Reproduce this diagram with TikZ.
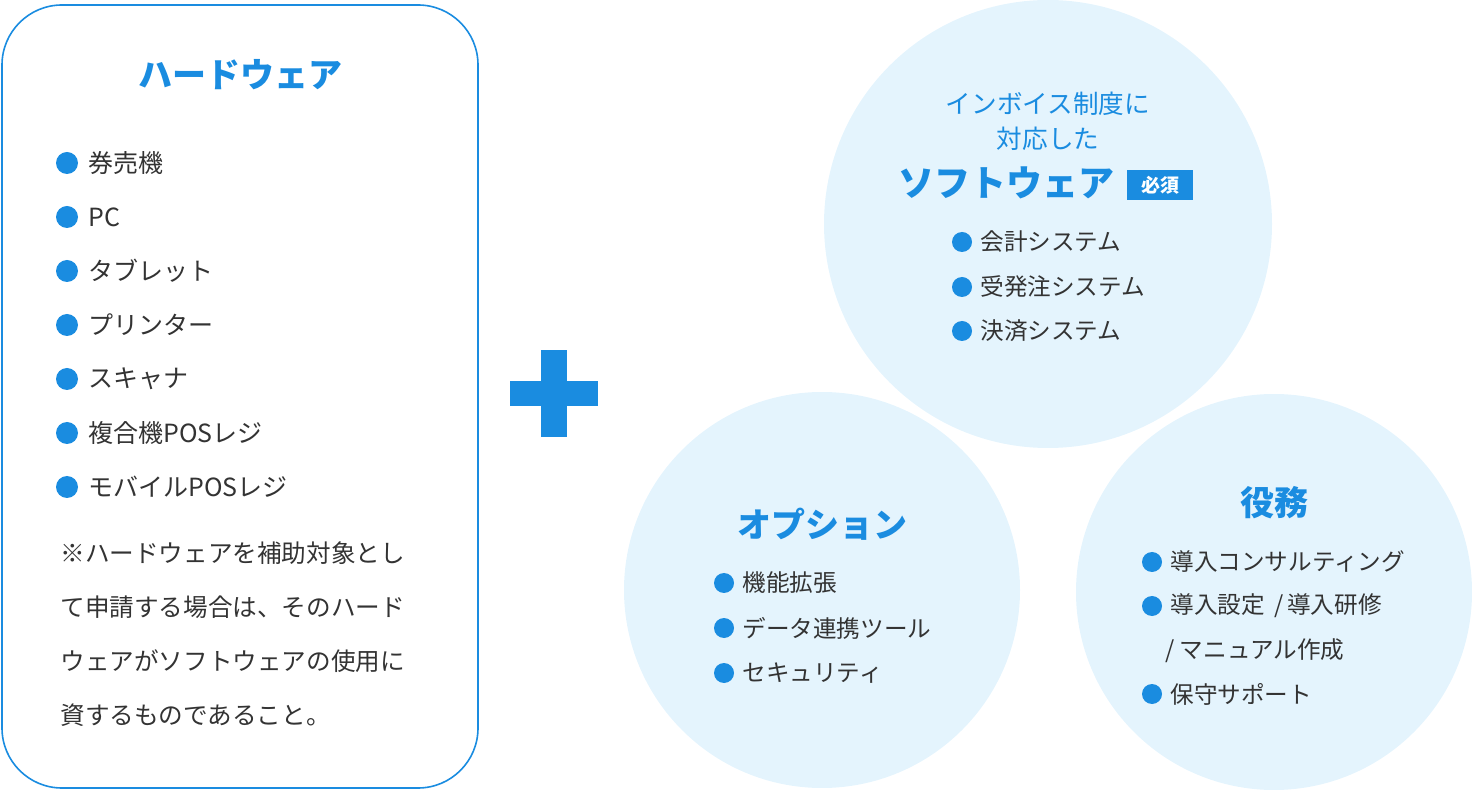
\documentclass[tikz,border=0pt]{standalone}
\usepackage{fontspec}
\setmainfont{Noto Sans CJK JP}
\definecolor{mblue}{HTML}{1A8CE0}
\definecolor{lblue}{HTML}{E4F4FD}
\definecolor{txt}{HTML}{333333}
\tikzset{
 dot/.style={circle,fill=mblue,inner sep=0pt,minimum size=11pt},
 item/.style={anchor=west,text=txt,font=\fontsize{12.5}{14}\selectfont,inner sep=0pt},
 sitem/.style={anchor=west,text=txt,font=\fontsize{11.8}{13}\selectfont,inner sep=0pt},
 ttl/.style={text=mblue,font=\bfseries\fontsize{17}{19}\selectfont},
 note/.style={anchor=west,text=txt,font=\fontsize{12.3}{13}\selectfont,inner sep=0pt},
 bub/.style={circle,fill=lblue,inner sep=0pt}
}
\begin{document}
\begin{tikzpicture}[x=0.5pt,y=-0.5pt]
\useasboundingbox (0,0) rectangle (1472,790);
\node[draw=mblue,line width=0.8pt,rounded corners=30pt,minimum width=238pt,minimum height=391.5pt,inner sep=0pt] (hw) at (240,396.5) {};
\node[ttl] (hwt) at (240,75) {ハードウェア};
\foreach \y/\t [count=\i] in {163/券売機,217/PC,271/タブレット,325/プリンター,379/スキャナ,433/複合機POSレジ,487/モバイルPOSレジ}{
 \node[dot] (hd\i) at (67,\y) {};
 \node[item] (ht\i) at (88,\y) {\t};
}
\foreach \y/\t [count=\i] in {553/※ハードウェアを補助対象とし,607/て申請する場合は、そのハード,661/ウェアがソフトウェアの使用に,715/資するものであること。}{
 \node[note] (n\i) at (60,\y) {\t};
}
\fill[mblue] (541,350) rectangle (567,437);
\fill[mblue] (510,381) rectangle (598,406);
\node[bub,minimum size=224pt] (c1) at (1048,224) {};
\node[bub,minimum size=198pt] (c2) at (822,590) {};
\node[bub,minimum size=198pt] (c3) at (1274,592) {};
\node[text=mblue,font=\fontsize{12.8}{14}\selectfont] (s1) at (1048,104) {インボイス制度に};
\node[text=mblue,font=\fontsize{12.8}{14}\selectfont] (s2) at (1048,139) {対応した};
\node[ttl,anchor=east,font=\bfseries\fontsize{18}{20}\selectfont] (s3) at (1122,183) {ソフトウェア};
\node[fill=mblue,text=white,font=\bfseries\fontsize{9.5}{10}\selectfont,minimum width=33pt,minimum height=15pt,inner sep=0pt] (req) at (1160,185) {必須};
\foreach \y/\t [count=\i] in {242/会計システム,287/受発注システム,331/決済システム}{
 \node[dot,minimum size=10pt] (sd\i) at (962,\y) {};
 \node[sitem] (st\i) at (980,\y) {\t};
}
\node[ttl] (ot) at (822,524) {オプション};
\foreach \y/\t [count=\i] in {583/機能拡張,628/データ連携ツール,673/セキュリティ}{
 \node[dot,minimum size=10pt] (od\i) at (724,\y) {};
 \node[sitem] (ot\i) at (742,\y) {\t};
}
\node[ttl] (et) at (1274,503) {役務};
\foreach \y/\t [count=\i] in {562/{導入コンサルティング},606/{導入設定\ \,/\,導入研修},694/{保守サポート}}{
 \node[dot,minimum size=10pt] (ed\i) at (1152,\y) {};
 \node[sitem] (et\i) at (1170,\y) {\t};
}
\node[sitem] (et4) at (1165,651) {/ マニュアル作成};
\end{tikzpicture}
\end{document}
